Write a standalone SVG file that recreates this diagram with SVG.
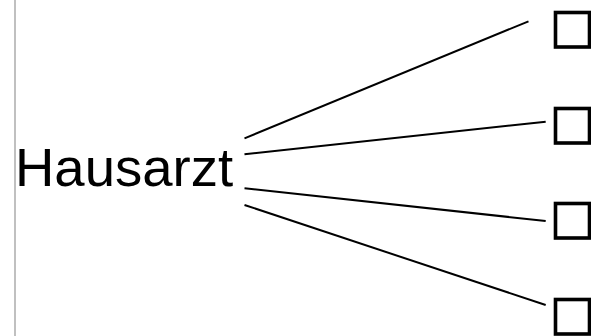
<svg xmlns="http://www.w3.org/2000/svg" width="591" height="336" viewBox="0 0 591 336">
<style>
.conn{stroke:#000;stroke-width:2;fill:none}
.box{fill:#fff;stroke:#000;stroke-width:3.6}
.lbl{font-family:"Liberation Sans",Arial,sans-serif;font-size:54.5px;fill:#000}
</style>
<rect width="591" height="336" fill="#fff"/>
<line x1="15" y1="0" x2="15" y2="336" stroke="#c0c0c0" stroke-width="2"/>
<g id="hausarzt"><text class="lbl" x="15" y="185.5">Hausarzt</text></g>
<g id="connectors">
<line class="conn" x1="244.5" y1="138.3" x2="528.5" y2="21.3"/>
<line class="conn" x1="244.5" y1="154.3" x2="545.7" y2="121.7"/>
<line class="conn" x1="244.5" y1="188.3" x2="545.7" y2="221"/>
<line class="conn" x1="244.5" y1="205" x2="545.7" y2="305"/>
</g>
<g id="box1"><rect class="box" x="555.5" y="12.5" width="34" height="34.5"/></g>
<g id="box2"><rect class="box" x="555.5" y="108.5" width="34" height="34.5"/></g>
<g id="box3"><rect class="box" x="555.5" y="203.5" width="34" height="34.5"/></g>
<g id="box4"><rect class="box" x="555.5" y="299.5" width="34" height="34.5"/></g>
</svg>
